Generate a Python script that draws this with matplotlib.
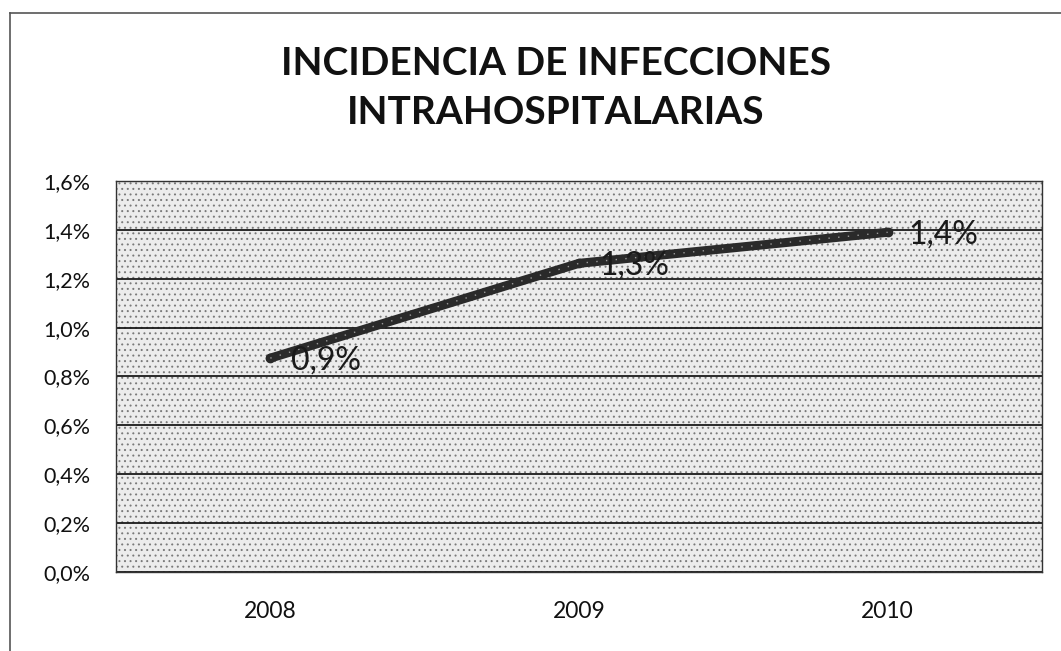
import matplotlib
matplotlib.use("Agg")
import matplotlib as mpl
import matplotlib.pyplot as plt
from matplotlib.patches import Rectangle
from matplotlib.lines import Line2D

years = ["2008", "2009", "2010"]
values = [0.875, 1.263, 1.39]
labels = ["0,9%", "1,3%", "1,4%"]
yticks = [0.0, 0.2, 0.4, 0.6, 0.8, 1.0, 1.2, 1.4, 1.6]
ytick_labels = ["0,0%", "0,2%", "0,4%", "0,6%", "0,8%", "1,0%", "1,2%", "1,4%", "1,6%"]
title = "INCIDENCIA DE INFECCIONES\nINTRAHOSPITALARIAS"

plt.rcParams['font.family'] = ['Lato', 'DejaVu Sans']
mpl.rcParams['hatch.linewidth'] = 0.7

fig = plt.figure(figsize=(10.61, 6.51), dpi=100)
fig.patch.set_facecolor("white")
ax = fig.add_axes([0.1093, 0.1214, 0.8728, 0.6006])
ax.set_facecolor("#ececec")
# stipple texture
ax.add_patch(Rectangle((0, 0), 1, 1, transform=ax.transAxes, facecolor="none",
                       edgecolor="#7a7a7a", hatch="...", linewidth=0, zorder=0.5))

x = list(range(len(years)))
ax.set_xlim(-0.5, len(years) - 0.5)
ax.set_ylim(0, 1.6)
ax.set_yticks(yticks)
ax.set_yticklabels(ytick_labels, fontsize=15.5, color="#111111")
ax.set_xticks(x)
ax.set_xticklabels(years, fontsize=16.5, color="#111111")
ax.tick_params(axis="x", length=0, pad=21)
ax.tick_params(axis="y", length=0, pad=18.5)
ax.yaxis.grid(True, color="#1a1a1a", linewidth=1.3)
ax.set_axisbelow(True)
for s in ax.spines.values():
    s.set_color("#333333")
    s.set_linewidth(1.0)

ax.plot(x, values, color="#2a2a2a", linewidth=6.5, solid_capstyle="round",
        marker="o", markersize=6, markerfacecolor="#2a2a2a", zorder=3)
ax.plot(x, values, color="#9a9a9a", linewidth=1.0, linestyle=(0, (1, 6)), zorder=4)

for xi, v, lab in zip(x, values, labels):
    ax.annotate(lab, (xi, v), xytext=(15, -1.5), textcoords="offset points",
                ha="left", va="center", fontsize=23, color="#1a1a1a", zorder=5)

fig.text(0.524, 0.865, title, ha="center", va="center", fontsize=28,
         fontweight="bold", color="#111111", linespacing=1.5)

# outer frame (left and top edges only)
fig.add_artist(Line2D([10 / 1061, 10 / 1061], [0, 1 - 13 / 651], transform=fig.transFigure,
                      color="#555555", linewidth=1.2))
fig.add_artist(Line2D([10 / 1061, 1], [1 - 13 / 651, 1 - 13 / 651], transform=fig.transFigure,
                      color="#555555", linewidth=1.2))

fig.savefig("out.png", dpi=100)
